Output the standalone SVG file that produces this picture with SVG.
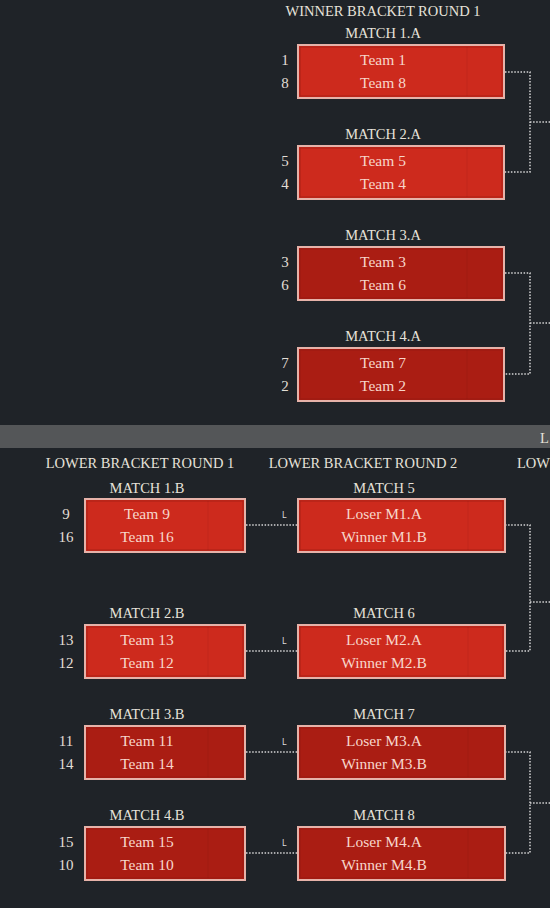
<svg xmlns="http://www.w3.org/2000/svg" width="550" height="908" viewBox="0 0 550 908">
<style>
.bg{fill:#1f2328}
.band{fill:#545658}
.hdr{font-family:"Liberation Serif","DejaVu Serif",serif;font-size:14.5px;fill:#e6e2da;text-anchor:middle}
.ttl{font-family:"Liberation Serif","DejaVu Serif",serif;font-size:14.5px;fill:#e6e2da;text-anchor:middle}
.team{font-family:"Liberation Serif","DejaVu Serif",serif;font-size:15.5px;fill:#f7d6cb;text-anchor:middle}
.seed{font-family:"Liberation Serif","DejaVu Serif",serif;font-size:15px;fill:#e2ded6;text-anchor:middle}
.box{stroke:#e6b2a9;stroke-width:2}
.inner{fill:none;stroke:#8e1a12;stroke-width:0.8;opacity:0.7}
.div{stroke:#000;stroke-opacity:0.06;stroke-width:1}
.hi{fill:#cd2a1d}
.lo{fill:#aa1d13}
.con{fill:none;stroke:#d6d6d6;stroke-width:1.5;stroke-dasharray:1.5 1.6}
.drop{font-family:"DejaVu Sans",sans-serif;font-size:8px;fill:#dcdcdc}
</style>
<rect class="bg" x="0" y="0" width="550" height="908"/>
<rect class="band" x="0" y="425" width="550" height="23"/>
<text class="hdr" x="540" y="443" style="text-anchor:start">L</text>

<text class="hdr" x="383" y="16">WINNER BRACKET ROUND 1</text>
<text class="hdr" x="140" y="468">LOWER BRACKET ROUND 1</text>
<text class="hdr" x="363" y="468">LOWER BRACKET ROUND 2</text>
<text class="hdr" x="517" y="468" style="text-anchor:start">LOW</text>

<g id="connectors">
<path class="con" d="M505,72 H530 V172 H505 M530,122 H550"/>
<path class="con" d="M505,273 H530 V374 H505 M530,323 H550"/>
<path class="con" d="M246,525 H298"/>
<path class="con" d="M246,651 H298"/>
<path class="con" d="M246,752 H298"/>
<path class="con" d="M246,853 H298"/>
<path class="con" d="M505,525 H530 V651 H505 M530,602 H550"/>
<path class="con" d="M505,752 H530 V853 H505 M530,803 H550"/>
<text class="drop" x="282" y="518">L</text>
<text class="drop" x="282" y="644">L</text>
<text class="drop" x="282" y="745">L</text>
<text class="drop" x="282" y="846">L</text>
</g>

<g id="match-1A">
<text class="ttl" x="383" y="38">MATCH 1.A</text>
<rect class="box hi" x="298" y="45" width="206" height="53"/>
<rect class="inner" x="300" y="47" width="202" height="49"/>
<line class="div" x1="467" y1="47" x2="467" y2="96"/>
<text class="seed" x="285" y="65">1</text><text class="seed" x="285" y="88">8</text>
<text class="team" x="383" y="65">Team 1</text><text class="team" x="383" y="88">Team 8</text>
</g>
<g id="match-2A">
<text class="ttl" x="383" y="139">MATCH 2.A</text>
<rect class="box hi" x="298" y="146" width="206" height="53"/>
<rect class="inner" x="300" y="148" width="202" height="49"/>
<line class="div" x1="467" y1="148" x2="467" y2="197"/>
<text class="seed" x="285" y="166">5</text><text class="seed" x="285" y="189">4</text>
<text class="team" x="383" y="166">Team 5</text><text class="team" x="383" y="189">Team 4</text>
</g>
<g id="match-3A">
<text class="ttl" x="383" y="240">MATCH 3.A</text>
<rect class="box lo" x="298" y="247" width="206" height="53"/>
<rect class="inner" x="300" y="249" width="202" height="49"/>
<line class="div" x1="467" y1="249" x2="467" y2="298"/>
<text class="seed" x="285" y="267">3</text><text class="seed" x="285" y="290">6</text>
<text class="team" x="383" y="267">Team 3</text><text class="team" x="383" y="290">Team 6</text>
</g>
<g id="match-4A">
<text class="ttl" x="383" y="341">MATCH 4.A</text>
<rect class="box lo" x="298" y="348" width="206" height="53"/>
<rect class="inner" x="300" y="350" width="202" height="49"/>
<line class="div" x1="467" y1="350" x2="467" y2="399"/>
<text class="seed" x="285" y="368">7</text><text class="seed" x="285" y="391">2</text>
<text class="team" x="383" y="368">Team 7</text><text class="team" x="383" y="391">Team 2</text>
</g>

<g id="match-1B">
<text class="ttl" x="147" y="493">MATCH 1.B</text>
<rect class="box hi" x="85" y="499" width="160" height="53"/>
<rect class="inner" x="87" y="501" width="156" height="49"/>
<line class="div" x1="208" y1="501" x2="208" y2="550"/>
<text class="seed" x="66" y="519">9</text><text class="seed" x="66" y="542">16</text>
<text class="team" x="147" y="519">Team 9</text><text class="team" x="147" y="542">Team 16</text>
</g>
<g id="match-2B">
<text class="ttl" x="147" y="618">MATCH 2.B</text>
<rect class="box hi" x="85" y="625" width="160" height="53"/>
<rect class="inner" x="87" y="627" width="156" height="49"/>
<line class="div" x1="208" y1="627" x2="208" y2="676"/>
<text class="seed" x="66" y="645">13</text><text class="seed" x="66" y="668">12</text>
<text class="team" x="147" y="645">Team 13</text><text class="team" x="147" y="668">Team 12</text>
</g>
<g id="match-3B">
<text class="ttl" x="147" y="719">MATCH 3.B</text>
<rect class="box lo" x="85" y="726" width="160" height="53"/>
<rect class="inner" x="87" y="728" width="156" height="49"/>
<line class="div" x1="208" y1="728" x2="208" y2="777"/>
<text class="seed" x="66" y="746">11</text><text class="seed" x="66" y="769">14</text>
<text class="team" x="147" y="746">Team 11</text><text class="team" x="147" y="769">Team 14</text>
</g>
<g id="match-4B">
<text class="ttl" x="147" y="820">MATCH 4.B</text>
<rect class="box lo" x="85" y="827" width="160" height="53"/>
<rect class="inner" x="87" y="829" width="156" height="49"/>
<line class="div" x1="208" y1="829" x2="208" y2="878"/>
<text class="seed" x="66" y="847">15</text><text class="seed" x="66" y="870">10</text>
<text class="team" x="147" y="847">Team 15</text><text class="team" x="147" y="870">Team 10</text>
</g>

<g id="match-5">
<text class="ttl" x="384" y="493">MATCH 5</text>
<rect class="box hi" x="298" y="499" width="207" height="53"/>
<rect class="inner" x="300" y="501" width="203" height="49"/>
<line class="div" x1="468" y1="501" x2="468" y2="550"/>
<text class="team" x="384" y="519">Loser M1.A</text><text class="team" x="384" y="542">Winner M1.B</text>
</g>
<g id="match-6">
<text class="ttl" x="384" y="618">MATCH 6</text>
<rect class="box hi" x="298" y="625" width="207" height="53"/>
<rect class="inner" x="300" y="627" width="203" height="49"/>
<line class="div" x1="468" y1="627" x2="468" y2="676"/>
<text class="team" x="384" y="645">Loser M2.A</text><text class="team" x="384" y="668">Winner M2.B</text>
</g>
<g id="match-7">
<text class="ttl" x="384" y="719">MATCH 7</text>
<rect class="box lo" x="298" y="726" width="207" height="53"/>
<rect class="inner" x="300" y="728" width="203" height="49"/>
<line class="div" x1="468" y1="728" x2="468" y2="777"/>
<text class="team" x="384" y="746">Loser M3.A</text><text class="team" x="384" y="769">Winner M3.B</text>
</g>
<g id="match-8">
<text class="ttl" x="384" y="820">MATCH 8</text>
<rect class="box lo" x="298" y="827" width="207" height="53"/>
<rect class="inner" x="300" y="829" width="203" height="49"/>
<line class="div" x1="468" y1="829" x2="468" y2="878"/>
<text class="team" x="384" y="847">Loser M4.A</text><text class="team" x="384" y="870">Winner M4.B</text>
</g>
</svg>
